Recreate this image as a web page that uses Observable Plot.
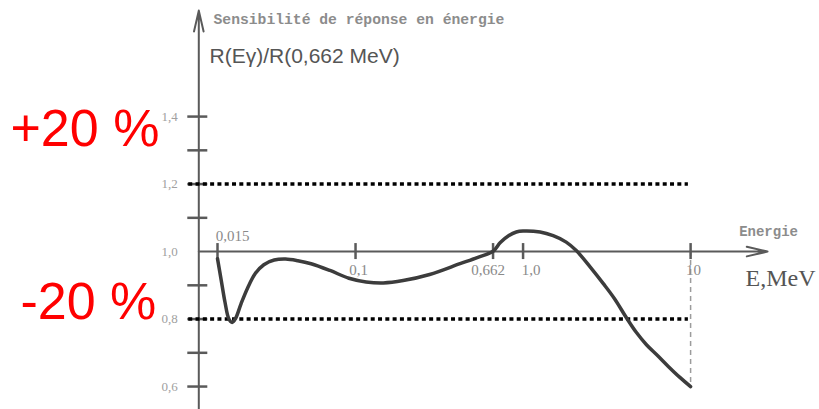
<!DOCTYPE html>
<html>
<head>
<meta charset="utf-8">
<script src="https://cdn.jsdelivr.net/npm/d3@7"></script>
<script src="https://cdn.jsdelivr.net/npm/@observablehq/plot@0.6"></script>
<style>
  html, body { margin: 0; padding: 0; background: #fff; }
  svg { display: block; }
</style>
</head>
<body>
<script>
// Energy response of the detector, normalised to its response at 0.662 MeV (Cs-137)
const energy = [0.015, 0.0158, 0.01664, 0.01752, 0.01834, 0.01919, 0.02075, 0.02273, 0.0252, 0.02835,
  0.0327, 0.0382, 0.04524, 0.0543, 0.0704, 0.0913, 0.1157, 0.1465, 0.1924, 0.2768,
  0.4205, 0.5324, 0.662, 0.7315, 0.819, 0.9112, 1.0, 1.264, 1.512, 1.809,
  2.077, 2.519, 3.013, 3.507, 4.139, 4.75, 5.452, 6.345, 7.385, 8.594, 10];
const ratio = [0.979, 0.914, 0.849, 0.801, 0.790, 0.801, 0.846, 0.893, 0.935, 0.961,
  0.975, 0.978, 0.973, 0.964, 0.944, 0.921, 0.910, 0.907, 0.914, 0.932,
  0.964, 0.982, 1.001, 1.027, 1.047, 1.058, 1.061, 1.058, 1.047, 1.028,
  1.003, 0.954, 0.905, 0.861, 0.804, 0.760, 0.724, 0.692, 0.659, 0.628, 0.600];

// Energy axis ticks and their labels
const xTicks = [0.015, 0.1, 0.662, 1, 10];
const xTickLabels = ["0,015", "0,1", "0,662", "1,0", "10"];
const xLabelShift = [15, 3, -5, 8, 3];   // horizontal nudge so neighbouring labels don't collide

// Ratio axis: tick marks, and the labelled subset
const yTicks = [0.6, 0.7, 0.8, 0.9, 1.1, 1.2, 1.3, 1.4];
const yLabelled = [0.6, 0.8, 1.0, 1.2, 1.4];

// ±20 % tolerance band
const bounds = [1.2, 0.8];
const boundLabels = ["+20 %", "-20 %"];

// Axis geometry in data units
const xAxisStart = 0.0116;   // energy where the vertical axis stands
const xAxisEnd = 28.8;       // tip of the energy arrow
const yAxisBottom = 0.532;
const yAxisTop = 1.714;
const boundStart = 0.0101;
const boundEnd = 9.7;

const data = energy.map((e, i) => ({e, r: ratio[i]}));
const fr = v => v.toFixed(1).replace(".", ",");

const grey = "#5a5a5a";
const sans = "Liberation Sans, Arial, sans-serif";
const mono = "Liberation Mono, DejaVu Sans Mono, monospace";

const chart = Plot.plot({
  width: 819,
  height: 409,
  margin: 0,
  style: {background: "#fff", fontFamily: "Liberation Serif, serif"},
  x: {type: "log", domain: [0.00076, 58.8], axis: null},
  y: {domain: [0.532, 1.744], axis: null},
  marks: [
    // dashed drop line at 10 MeV
    Plot.ruleX([10], {y1: 1, y2: 0.6, stroke: "#9c9c9c", strokeWidth: 1.5, strokeDasharray: "5,4"}),
    // axes with arrows
    Plot.arrow([{x1: xAxisStart, y1: yAxisBottom, x2: xAxisStart, y2: yAxisTop}],
      {x1: "x1", y1: "y1", x2: "x2", y2: "y2", stroke: grey, strokeWidth: 2, headLength: 16, headAngle: 26}),
    Plot.arrow([{x1: xAxisStart, y1: 1, x2: xAxisEnd, y2: 1}],
      {x1: "x1", y1: "y1", x2: "x2", y2: "y2", stroke: grey, strokeWidth: 2, headLength: 16, headAngle: 26}),
    // tick marks crossing the axes
    Plot.ruleY(yTicks, {y: d => d, x1: xAxisStart, x2: xAxisStart, insetLeft: -11, insetRight: -9,
      stroke: grey, strokeWidth: 2.5}),
    Plot.ruleX(xTicks, {x: d => d, y1: 1, y2: 1, insetTop: -8, insetBottom: -8,
      stroke: grey, strokeWidth: 2.5}),
    // tick labels
    Plot.text(yLabelled, {x: xAxisStart, y: d => d, text: fr, textAnchor: "end", dx: -21,
      fill: "#a0a0a0", fontSize: 13}),
    Plot.text(xTicks.slice(0, 1), {x: d => d, y: 1, text: xTickLabels.slice(0, 1),
      dx: xLabelShift[0], dy: -15, fill: "#8a8a8a", fontSize: 15}),
    ...xTicks.slice(1).map((t, i) =>
      Plot.text([t], {x: d => d, y: 1, text: [xTickLabels[i + 1]], dx: xLabelShift[i + 1], dy: 19,
        fill: "#8a8a8a", fontSize: 15})),
    // tolerance band
    Plot.ruleY(bounds, {y: d => d, x1: boundStart, x2: boundEnd, stroke: "#000",
      strokeWidth: 3.5, strokeDasharray: "4,3.3"}),
    Plot.text([bounds[0]], {y: d => d, frameAnchor: "left", text: [boundLabels[0]], textAnchor: "start",
      dx: 10, dy: -55, fill: "#ff0000", fontSize: 52, fontFamily: sans}),
    Plot.text([bounds[1]], {y: d => d, frameAnchor: "left", text: [boundLabels[1]], textAnchor: "start",
      dx: 20, dy: -17, fill: "#ff0000", fontSize: 52, fontFamily: sans}),
    // response curve
    Plot.line(data, {x: "e", y: "r", curve: "catmull-rom", stroke: "#3c3c3c", strokeWidth: 3.5}),
    // titles
    Plot.text(["Sensibilité de réponse en énergie"], {frameAnchor: "top-left", dx: 213, dy: 13,
      textAnchor: "start", fill: "#8c8c8c", fontSize: 14.7, fontWeight: "bold", fontFamily: mono}),
    Plot.text(["R(Eγ)/R(0,662 MeV)"], {frameAnchor: "top-left", dx: 209, dy: 48,
      textAnchor: "start", fill: "#555", fontSize: 21, fontFamily: sans}),
    Plot.text(["Energie"], {x: xAxisEnd, y: 1, dx: 1, dy: -20, textAnchor: "middle",
      fill: "#8c8c8c", fontSize: 14, fontWeight: "bold", fontFamily: mono}),
    Plot.text(["E,MeV"], {x: xAxisEnd, y: 1, dx: -22, dy: 27, textAnchor: "start",
      fill: "#555", fontSize: 24})
  ]
});

document.body.appendChild(chart);
</script>
</body>
</html>
